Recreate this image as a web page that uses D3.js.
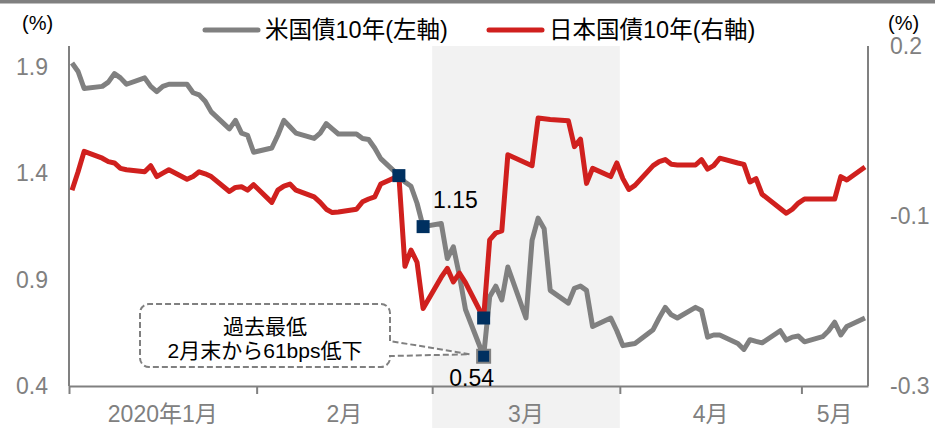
<!DOCTYPE html>
<html>
<head>
<meta charset="utf-8">
<script src="https://cdn.jsdelivr.net/npm/d3@7"></script>
<style>
  body { margin: 0; background: #fff; }
  svg text { font-family: "Liberation Sans", Arial, "Noto Sans CJK JP", sans-serif; }
</style>
</head>
<body>
<svg id="chart" width="935" height="428"></svg>
<script>
// business days (2020), US 10y (left axis) and JGB 10y (right axis)
const days = [
  '1/1','1/2','1/3','1/6','1/7','1/8','1/9','1/10','1/13','1/14','1/15','1/16','1/17','1/20','1/21','1/22','1/23','1/24','1/27','1/28','1/29','1/30','1/31',
  '2/3','2/4','2/5','2/6','2/7','2/10','2/11','2/12','2/13','2/14','2/17','2/18','2/19','2/20','2/21','2/24','2/25','2/26','2/27','2/28',
  '3/2','3/3','3/4','3/5','3/6','3/9','3/10','3/11','3/12','3/13','3/16','3/17','3/18','3/19','3/20','3/23','3/24','3/25','3/26','3/27','3/30','3/31',
  '4/1','4/2','4/3','4/6','4/7','4/8','4/9','4/10','4/13','4/14','4/15','4/16','4/17','4/20','4/21','4/22','4/23','4/24','4/27','4/28','4/29','4/30',
  '5/1','5/4','5/5','5/6','5/7','5/8','5/11'
];
const usYield = [
  1.92,1.88,1.80,1.81,1.83,1.87,1.85,1.82,1.85,1.81,1.785,1.81,1.82,1.82,1.78,1.77,1.74,1.69,1.61,1.65,1.59,1.58,1.50,
  1.52,1.58,1.65,1.62,1.59,1.565,1.59,1.635,1.61,1.586,1.586,1.565,1.56,1.52,1.47,1.39,1.36,1.34,1.26,1.15,
  1.165,1.00,1.055,0.92,0.76,0.54,0.82,0.87,0.805,0.96,0.72,1.085,1.19,1.14,0.85,0.79,0.86,0.87,0.85,0.68,0.72,0.66,
  0.59,0.595,0.60,0.665,0.72,0.77,0.735,0.72,0.77,0.755,0.63,0.64,0.64,0.60,0.572,0.618,0.61,0.603,0.66,0.616,0.63,0.635,
  0.608,0.632,0.66,0.70,0.64,0.68,0.72
];
const jpYield = [
  -0.012,0.015,0.045,0.035,0.03,0.028,0.02,0.018,0.015,0.024,0.008,0.013,0.018,0.004,0.008,0.015,0.012,0.008,-0.014,-0.008,-0.007,-0.012,-0.004,
  -0.03,-0.012,-0.006,-0.003,-0.012,-0.022,-0.03,-0.04,-0.045,-0.044,-0.04,-0.029,-0.025,-0.022,-0.003,0.009,-0.124,-0.10,-0.118,-0.186,
  -0.14,-0.127,-0.147,-0.134,-0.148,-0.2,-0.085,-0.075,-0.072,0.04,0.028,0.024,0.094,0.093,0.092,0.09,0.052,0.063,-0.002,0.02,0.008,0.028,
  0.005,-0.011,-0.005,0.024,0.03,0.033,0.026,0.025,0.025,0.033,0.019,0.024,0.035,0.028,0.026,0.0,0.005,-0.018,-0.039,-0.046,-0.04,-0.031,
  -0.025,-0.025,-0.025,-0.025,0.008,0.003,0.022
];

const seriesNames = ['米国債10年(左軸)', '日本国債10年(右軸)'];
const leftTicks = [0.4, 0.9, 1.4, 1.9];
const rightTicks = [-0.3, -0.05, 0.2];
const rightTickLabels = ['-0.3', '-0.1', '0.2'];
const monthStarts = ['1/1', '2/1', '3/1', '4/1', '5/1'];
const monthLabels = ['2020年1月', '2月', '3月', '4月', '5月'];
const shadedMonth = ['3/1', '4/1'];
const markers = [
  {series: 'us', day: '2/24'},
  {series: 'us', day: '2/28'},
  {series: 'jp', day: '3/9'},
  {series: 'us', day: '3/9'}
];
const calloutLines = ['過去最低', '2月末から61bps低下'];

const parseDay = s => d3.utcParse('%Y/%m/%d')('2020/' + s);
const noon = s => d3.utcHour.offset(parseDay(s), 12);

const svg = d3.select('#chart');
const margin = {top: 46, left: 69, right: 868, bottom: 386};
const gray = '#808080';
const red = '#d0201e';
const navy = '#003060';

const x = d3.scaleUtc()
  .domain([parseDay('1/1'), parseDay('5/12')])
  .range([margin.left, margin.right]);
const yL = d3.scaleLinear().domain([0.4, 2.0]).range([margin.bottom, margin.top]);
const yR = d3.scaleLinear().domain([-0.3, 0.2]).range([margin.bottom, margin.top]);

const us = days.map((d, i) => ({day: d, date: noon(d), v: usYield[i]}));
const jp = days.map((d, i) => ({day: d, date: noon(d), v: jpYield[i]}));

// top border
svg.append('rect').attr('x', 0).attr('y', 0).attr('width', 935).attr('height', 3.5).attr('fill', gray);

// shaded March
svg.append('rect')
  .attr('x', x(parseDay(shadedMonth[0])))
  .attr('y', margin.top)
  .attr('width', x(parseDay(shadedMonth[1])) - x(parseDay(shadedMonth[0])))
  .attr('height', 428 - margin.top)
  .attr('fill', '#f2f2f2');

// axes
const styleAxis = g => {
  g.select('.domain').remove();
  g.selectAll('text').attr('fill', gray).style('font-size', '23px');
};

svg.append('g')
  .attr('transform', `translate(${margin.left},0)`)
  .call(d3.axisLeft(yL).tickValues(leftTicks).tickSize(0).tickPadding(21).tickFormat(d3.format('.1f')))
  .call(styleAxis);

svg.append('g')
  .attr('transform', `translate(${margin.right},0)`)
  .call(d3.axisRight(yR).tickValues(rightTicks).tickSize(0).tickPadding(22).tickFormat((d, i) => rightTickLabels[i]))
  .call(styleAxis);

const xAxisG = svg.append('g')
  .attr('transform', `translate(0,${margin.bottom})`)
  .call(d3.axisBottom(x).tickValues(monthStarts.map(parseDay)).tickSizeInner(8).tickSizeOuter(0).tickFormat(''));
xAxisG.select('.domain').attr('stroke', gray).attr('stroke-width', 2);
xAxisG.selectAll('.tick line').attr('stroke', gray).attr('stroke-width', 2);

[margin.left, margin.right].forEach(px => {
  svg.append('line')
    .attr('x1', px).attr('x2', px)
    .attr('y1', margin.top).attr('y2', margin.bottom)
    .attr('stroke', gray).attr('stroke-width', 2);
});

// month labels centered in each month
const domainEnd = x.domain()[1];
monthStarts.forEach((m, i) => {
  const a = parseDay(m);
  const b = i < monthStarts.length - 1 ? parseDay(monthStarts[i + 1]) : domainEnd;
  svg.append('text')
    .attr('x', (x(a) + x(b)) / 2)
    .attr('y', 422)
    .attr('text-anchor', 'middle')
    .attr('fill', gray)
    .style('font-size', '23px')
    .text(monthLabels[i]);
});

// unit labels
svg.append('text').attr('x', 22).attr('y', 30).style('font-size', '20px').text('(%)');
svg.append('text').attr('x', 888).attr('y', 30).style('font-size', '20px').text('(%)');

// lines
const lineL = d3.line().x(d => x(d.date)).y(d => yL(d.v));
const lineR = d3.line().x(d => x(d.date)).y(d => yR(d.v));

svg.append('path').datum(us)
  .attr('d', lineL)
  .attr('fill', 'none').attr('stroke', gray).attr('stroke-width', 5).attr('stroke-linejoin', 'round');
svg.append('path').datum(jp)
  .attr('d', lineR)
  .attr('fill', 'none').attr('stroke', red).attr('stroke-width', 5).attr('stroke-linejoin', 'round');

// markers
markers.forEach((m, i) => {
  const src = m.series === 'us' ? us : jp;
  const scale = m.series === 'us' ? yL : yR;
  const p = src.find(d => d.day === m.day);
  const last = i === markers.length - 1;
  svg.append('rect')
    .attr('x', x(p.date) - 6.5).attr('y', scale(p.v) - 6.5)
    .attr('width', 13).attr('height', 13)
    .attr('fill', navy)
    .attr('stroke', last ? gray : 'none').attr('stroke-width', 2);
});

// value labels
const p115 = us.find(d => d.day === '2/28');
const p054 = us.find(d => d.day === '3/9');
svg.append('text')
  .attr('x', x(p115.date) + 10).attr('y', yL(p115.v) - 19)
  .style('font-size', '23px').text(p115.v.toFixed(2));
svg.append('text')
  .attr('x', x(p054.date) - 12).attr('y', yL(p054.v) + 30)
  .attr('text-anchor', 'middle')
  .style('font-size', '23px').text(p054.v.toFixed(2));

// callout
const box = {x0: 140, y0: 304, x1: 390, y1: 367, r: 9, g0: 341, g1: 356};
const tip = [x(p054.date) - 14, yL(p054.v) - 2];
const cp = d3.path();
cp.moveTo(box.x1, box.g0);
cp.lineTo(box.x1, box.y0 + box.r);
cp.arcTo(box.x1, box.y0, box.x1 - box.r, box.y0, box.r);
cp.lineTo(box.x0 + box.r, box.y0);
cp.arcTo(box.x0, box.y0, box.x0, box.y0 + box.r, box.r);
cp.lineTo(box.x0, box.y1 - box.r);
cp.arcTo(box.x0, box.y1, box.x0 + box.r, box.y1, box.r);
cp.lineTo(box.x1 - box.r, box.y1);
cp.arcTo(box.x1, box.y1, box.x1, box.y1 - box.r, box.r);
cp.lineTo(box.x1, box.g1);
cp.lineTo(tip[0], tip[1]);
cp.closePath();
svg.append('path')
  .attr('d', cp.toString())
  .attr('fill', '#fff')
  .attr('stroke', gray).attr('stroke-width', 2).attr('stroke-dasharray', '6,3');

calloutLines.forEach((t, i) => {
  svg.append('text')
    .attr('x', (box.x0 + box.x1) / 2).attr('y', 334 + i * 24)
    .attr('text-anchor', 'middle')
    .style('font-size', '21px')
    .text(t);
});

// legend
const legend = [{name: seriesNames[0], color: gray, x: 205}, {name: seriesNames[1], color: red, x: 489}];
legend.forEach(l => {
  svg.append('line')
    .attr('x1', l.x).attr('x2', l.x + 53).attr('y1', 30).attr('y2', 30)
    .attr('stroke', l.color).attr('stroke-width', 5).attr('stroke-linecap', 'round');
  svg.append('text')
    .attr('x', l.x + 60).attr('y', 38)
    .style('font-size', '23.5px')
    .text(l.name);
});
</script>
</body>
</html>
